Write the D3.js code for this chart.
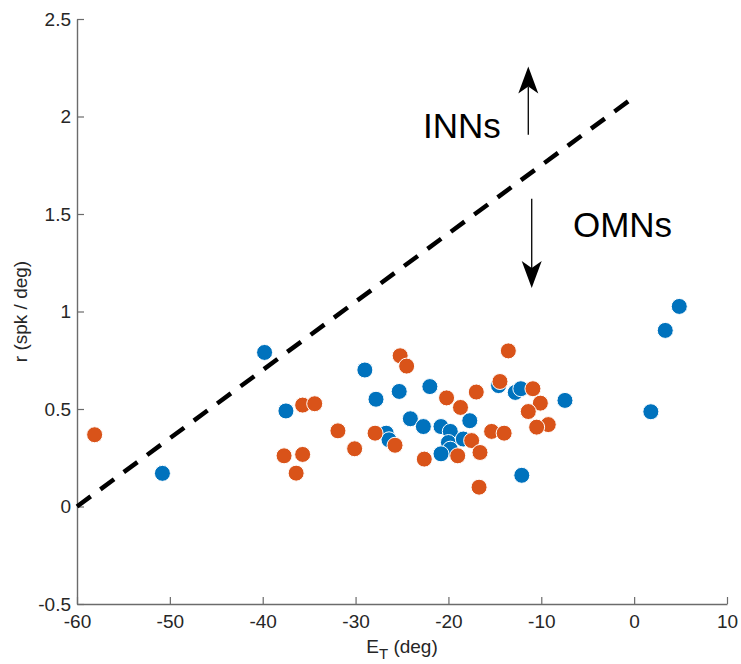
<!DOCTYPE html>
<html>
<head>
<meta charset="utf-8">
<script src="https://cdn.jsdelivr.net/npm/d3@7"></script>
<style>
  body { margin: 0; background: #fff; }
  text { font-family: "Liberation Sans", Arial, Helvetica, sans-serif; }
</style>
</head>
<body>
<script>
 // blue group (E_T, r)
 const blueX = [-50.8, -39.8, -37.5, -29.0, -27.8, -25.3, -22.0, -24.1, -22.7, -20.8, -19.8, -17.7,
                -26.7, -26.4, -20.0, -18.4, -19.8, -20.8, -14.6, -12.8, -12.2, -12.1, -7.45, 1.8, 3.35, 4.86];
 const blueY = [0.17, 0.79, 0.49, 0.70, 0.55, 0.59, 0.615, 0.45, 0.41, 0.41, 0.385, 0.44,
                0.376, 0.342, 0.328, 0.346, 0.294, 0.27, 0.62, 0.585, 0.604, 0.16, 0.544, 0.486, 0.903, 1.026];

 // orange group (E_T, r)
 const orangeX = [-58.1, -37.7, -35.7, -36.4, -35.7, -34.4, -25.2, -24.5, -13.55, -20.2, -17.0, -18.7,
                  -27.9, -25.75, -31.9, -30.1, -22.6, -17.5, -19.0, -16.6, -15.35, -14.0, -14.45,
                  -10.9, -10.1, -11.4, -9.25, -10.5, -16.7];
 const orangeY = [0.368, 0.26, 0.267, 0.171, 0.52, 0.527, 0.773, 0.72, 0.798, 0.557, 0.587, 0.508,
                  0.376, 0.314, 0.388, 0.296, 0.243, 0.338, 0.26, 0.277, 0.385, 0.376, 0.641,
                  0.604, 0.53, 0.487, 0.42, 0.407, 0.099];

 // boundary line and annotations
 const boundX = [-60, 0];
 const boundY = [0, 2.1];
 const xTicks = [-60, -50, -40, -30, -20, -10, 0, 10];
 const yTicks = [-0.5, 0, 0.5, 1, 1.5, 2, 2.5];
 const labels = [{ text: 'INNs', x: -22.74, y: 1.89 }, { text: 'OMNs', x: -6.59, y: 1.383 }];
 const arrows = [{ x: -11.4, from: 1.906, to: 2.256 }, { x: -11.03, from: 1.578, to: 1.121 }];

 // constants
 const width = 741;
 const height = 664;
 const margin = { top: 19, bottom: 60, left: 77, right: 14 };
 const blue = '#0072BD', orange = '#D95319';

 const svg = d3.select('body').append('svg')
       .attr('width', width).attr('height', height);

 const xScale = d3.scaleLinear().domain([-60, 10]).range([margin.left, width - margin.right]);
 const yScale = d3.scaleLinear().domain([-0.5, 2.5]).range([height - margin.bottom, margin.top]);

 // axes (ticks point inward, matlab style)
 const xAxis = svg.append('g')
       .attr('transform', `translate(0, ${height - margin.bottom})`)
       .call(d3.axisBottom(xScale).tickValues(xTicks).tickFormat((d) => String(d))
             .tickSizeInner(-7).tickSizeOuter(0).tickPadding(11));
 const yAxis = svg.append('g')
       .attr('transform', `translate(${margin.left}, 0)`)
       .call(d3.axisLeft(yScale).tickValues(yTicks).tickFormat((d) => String(d))
             .tickSizeInner(-7).tickSizeOuter(0).tickPadding(6));
 [xAxis, yAxis].forEach((ax) => {
    ax.select('.domain').attr('stroke', '#6b6b6b').attr('stroke-width', 1.4)
    ax.selectAll('.tick line').attr('stroke', '#6b6b6b').attr('stroke-width', 1.2)
    ax.selectAll('.tick text').attr('fill', '#262626').style('font-size', '19px')
 })

 // axis titles
 const xt = svg.append('text').attr('x', (margin.left + width - margin.right) / 2).attr('y', 653)
       .attr('text-anchor', 'middle').attr('fill', '#262626').style('font-size', '19px')
 xt.append('tspan').text('E')
 xt.append('tspan').text('T').attr('dy', 6).style('font-size', '15px')
 xt.append('tspan').text(' (deg)').attr('dy', -6)

 svg.append('text')
    .attr('transform', `translate(27, ${(margin.top + height - margin.bottom) / 2}) rotate(-90)`)
    .attr('text-anchor', 'middle').attr('fill', '#262626').style('font-size', '19px')
    .text('r (spk / deg)')

 // dashed boundary
 svg.append('path')
    .datum(d3.zip(boundX, boundY))
    .attr('d', d3.line().x((d) => xScale(d[0])).y((d) => yScale(d[1])))
    .attr('fill', 'none').attr('stroke', '#000').attr('stroke-width', 4.5)
    .attr('stroke-dasharray', '17,12')

 // points
 const drawDots = (xs, ys, color) => {
    svg.append('g').selectAll('circle').data(d3.zip(xs, ys)).enter().append('circle')
       .attr('cx', (d) => xScale(d[0])).attr('cy', (d) => yScale(d[1]))
       .attr('r', 8).attr('fill', color)
       .attr('stroke', '#fff').attr('stroke-width', 1)
 }
 drawDots(blueX, blueY, blue)
 drawDots(orangeX, orangeY, orange)

 // region labels
 svg.append('g').selectAll('text').data(labels).enter().append('text')
    .attr('x', (d) => xScale(d.x)).attr('y', (d) => yScale(d.y))
    .attr('fill', '#000').style('font-size', '35px')
    .text((d) => d.text)

 // arrows with notched heads
 arrows.forEach((a) => {
    const x = xScale(a.x), y0 = yScale(a.from), y1 = yScale(a.to)
    const dir = y1 < y0 ? 1 : -1
    const len = 27, half = 10, notch = 7
    svg.append('line').attr('x1', x).attr('x2', x)
       .attr('y1', y0).attr('y2', y1 + dir * (len - notch))
       .attr('stroke', '#000').attr('stroke-width', 1.3)
    svg.append('path')
       .attr('d', `M${x},${y1} L${x - half},${y1 + dir * len} L${x},${y1 + dir * (len - notch)} L${x + half},${y1 + dir * len} Z`)
       .attr('fill', '#000')
 })
</script>
</body>
</html>
